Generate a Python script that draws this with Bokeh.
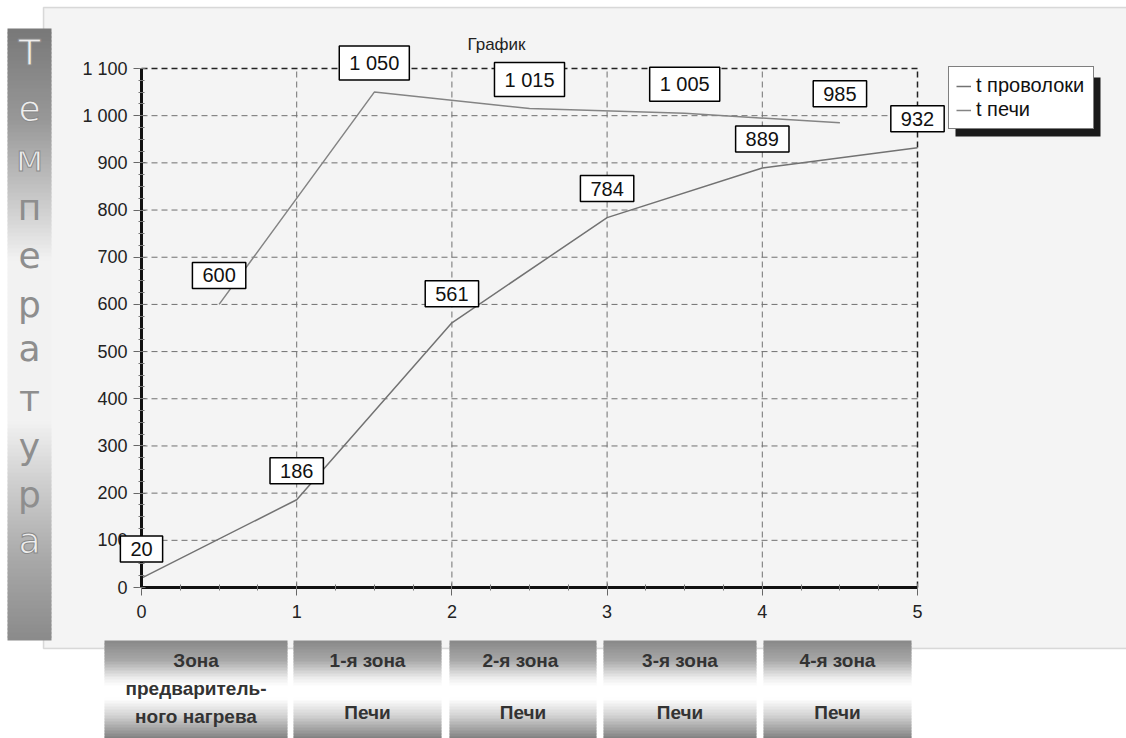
from bokeh.plotting import figure
from bokeh.models import (Range1d, BoxAnnotation, Label,
                          SingleIntervalTicker, Legend, LegendItem)
from bokeh.embed import file_html
from bokeh.resources import INLINE

# ---------------- data ----------------
zones = [0, 1, 2, 3, 4, 5]
wire_temp = [20, 186, 561, 784, 889, 932]
furnace_x = [0.5, 1.5, 2.5, 3.5, 4.5]
furnace_temp = [600, 1050, 1015, 1005, 985]
series_names = ["t проволоки", "t печи"]
chart_title = "График"
axis_letters = list("Температура")
zone_labels = [
    ["Зона", "предваритель-", "ного нагрева"],
    ["1-я зона", "Печи"],
    ["2-я  зона", "Печи"],
    ["3-я зона", "Печи"],
    ["4-я зона", "Печи"],
]
x_ticks = [0, 1, 2, 3, 4, 5]
y_ticks = [0, 100, 200, 300, 400, 500, 600, 700, 800, 900, 1000, 1100]
y_label_overrides = {1000: "1 000", 1100: "1 100"}


def fmt(v):
    return f"{v:,}".replace(",", " ")


# ---------------- layout (pixel coordinates of the picture) ----------------
W, H = 1126, 738
FL, FR, FT, FB = 141, 917, 68, 587          # plot area
X0, X1, Y0, Y1 = 0, 5, 0, 1100              # data extent of plot area
SX = (FR - FL) / (X1 - X0)
SY = (FB - FT) / (Y1 - Y0)
FONT = "Liberation Sans"

p = figure(width=W, height=H, min_border=0,
           x_range=Range1d(X0 - FL / SX, X1 + (W - FR) / SX),
           y_range=Range1d(Y0 - (H - FB) / SY, Y1 + FT / SY),
           output_backend="svg", toolbar_location=None,
           background_fill_color="white", border_fill_color="white",
           outline_line_color=None)
p.grid.visible = False

# pixel-aligned helper ranges for decorations (data value == pixel)
p.extra_x_ranges = {"px": Range1d(0, W)}
p.extra_y_ranges = {"py": Range1d(H, 0)}


def box(x0, x1, y0, y1, color, level="underlay", line=None, lw=1):
    b = BoxAnnotation(left=x0, right=x1, top=y0, bottom=y1,
                      x_range_name="px", y_range_name="py",
                      fill_color=color, fill_alpha=1,
                      line_color=line, line_width=lw, level=level)
    p.add_layout(b)


def label(x, y, text, size="16px", color="#222222", bold=False, font=FONT,
          level="annotation", outline=None):
    p.add_layout(Label(x=x, y=y, x_range_name="px", y_range_name="py", text=text,
                       text_align="center", text_baseline="middle",
                       text_font_size=size, text_color=color, text_font=font,
                       text_outline_color=outline,
                       text_font_style="bold" if bold else "normal", level=level))


def gray_at(stops, y):
    for (y0, g0), (y1, g1) in zip(stops, stops[1:]):
        if y0 <= y <= y1:
            return g0 + (g1 - g0) * (y - y0) / (y1 - y0)
    return stops[-1][1]


def hexg(g):
    g = max(0, min(255, int(round(g))))
    return f"#{g:02x}{g:02x}{g:02x}"


# background panel
box(43, 1140, 7, 648, "#f4f4f4", level="image", line="#8c8c8c", lw=1.5)

# left vertical gradient bar
bar_stops = [(28, 0x78), (120, 0x98), (220, 0xd6), (260, 0xf2), (420, 0xf2),
             (480, 0xd0), (560, 0xa8), (640, 0x8a)]
for y in range(28, 640, 4):
    box(7, 51, y, min(y + 5, 640), hexg(gray_at(bar_stops, y + 2)))

letter_y = [52, 108, 158, 207, 255, 304, 348, 398, 446, 494, 540]
for ch, ly in zip(axis_letters, letter_y):
    g = gray_at(bar_stops, ly)
    if g < 0xbc:
        label(29, ly, ch, size="36px", color="#eeeeee", font="DejaVu Sans", outline="#8a8a8a")
    else:
        label(29, ly, ch, size="36px", color="#8e8e8e", font="DejaVu Sans")

# bottom zone boxes
zone_boxes = [(104, 287), (293, 441), (449, 596), (603, 756), (763, 911)]
zone_stops = [(640, 0x88), (660, 0xa8), (678, 0xee), (686, 0xff), (698, 0xff),
              (716, 0xd0), (738, 0x80)]
for (x0, x1) in zone_boxes:
    for y in range(640, 740, 3):
        box(x0, x1, y, y + 4, hexg(gray_at(zone_stops, y + 1.5)))

for (x0, x1), lines in zip(zone_boxes, zone_labels):
    cx = (x0 + x1) / 2
    ys = [660, 688, 716] if len(lines) == 3 else [660, 712]
    for t, ly in zip(lines, ys):
        label(cx, ly, t, size="19px", color="#333333", bold=True)

# title
label(496, 44, chart_title, size="17px", color="#222222")

# ---------------- grid & frame (dashed) ----------------
p.segment(x0=x_ticks[1:-1], y0=[Y0] * (len(x_ticks) - 2), x1=x_ticks[1:-1], y1=[Y1] * (len(x_ticks) - 2),
          line_color="#707070", line_width=1, line_dash="6 4", level="underlay")
p.segment(x0=[X0] * (len(y_ticks) - 2), y0=y_ticks[1:-1], x1=[X1] * (len(y_ticks) - 2), y1=y_ticks[1:-1],
          line_color="#707070", line_width=1, line_dash="6 4", level="underlay")
p.segment(x0=[X0, X1], y0=[Y1, Y0], x1=[X1, X1], y1=[Y1, Y1],
          line_color="#222222", line_width=1.5, line_dash="6 4", level="underlay")

# ---------------- axes ----------------
p.xaxis.ticker = SingleIntervalTicker(interval=1, num_minor_ticks=4)
p.yaxis.ticker = SingleIntervalTicker(interval=100, num_minor_ticks=4)
p.xaxis.fixed_location = Y0
p.yaxis.fixed_location = X0
p.xaxis.bounds = (X0, X1)
p.yaxis.bounds = (Y0, Y1)
p.yaxis.major_label_overrides = y_label_overrides
for ax in p.axis:
    ax.axis_line_width = 3
    ax.axis_line_color = "#111111"
    ax.major_tick_out = 8
    ax.major_tick_in = 4
    ax.major_tick_line_color = "#666666"
    ax.minor_tick_in = 3
    ax.minor_tick_out = 3
    ax.minor_tick_line_color = "#777777"
    ax.major_label_text_font = FONT
    ax.major_label_text_font_size = "18px"
    ax.major_label_text_color = "#222222"
p.yaxis.major_label_standoff = 6
p.xaxis.major_label_standoff = 9

# ---------------- series ----------------
r1 = p.line(zones, wire_temp, line_color="#727272", line_width=1.5)
r2 = p.line(furnace_x, furnace_temp, line_color="#848484", line_width=1.5)

label_style = dict(text_align="center", text_baseline="middle", y_offset=29,
                   text_font_size="20px", text_font=FONT, text_color="#111111",
                   background_fill_color="white", background_fill_alpha=1,
                   border_line_color="black", border_line_width=1.5,
                   padding=(10, 6), level="annotation")
for xs, ys in ((zones, wire_temp), (furnace_x, furnace_temp)):
    for xv, yv in zip(xs, ys):
        p.add_layout(Label(x=xv, y=yv, text=fmt(yv), **label_style))

# legend with shadow
box(955, 1100, 77, 136, "#1a1a1a", level="guide")
legend = Legend(items=[LegendItem(label=series_names[0], renderers=[r1]),
                       LegendItem(label=series_names[1], renderers=[r2])],
                location=(948, H - 129), margin=0, padding=7, spacing=1,
                glyph_width=15, glyph_height=22, label_height=22, label_width=110,
                label_standoff=5,
                label_text_font=FONT, label_text_font_size="20px", label_text_color="#111111",
                border_line_color="black", border_line_width=1.5,
                background_fill_color="white", background_fill_alpha=1)
p.add_layout(legend)

open("out.html", "w").write(file_html(p, INLINE))
